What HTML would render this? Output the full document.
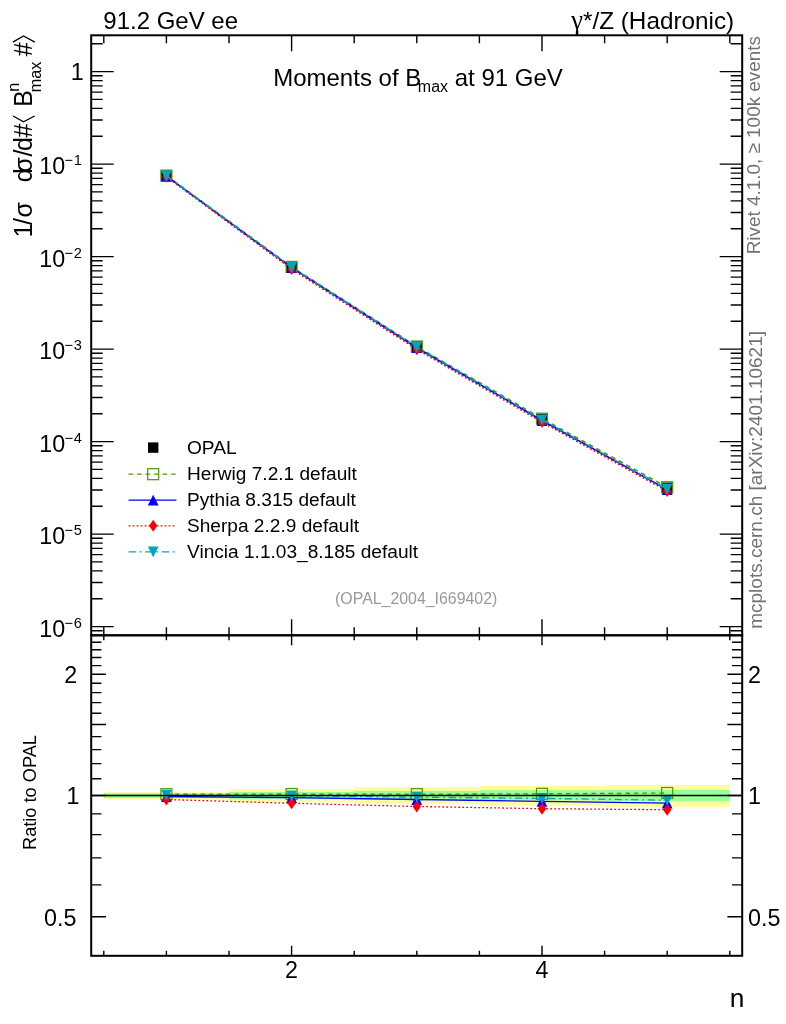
<!DOCTYPE html>
<html><head><meta charset="utf-8"><title>plot</title>
<style>html,body{margin:0;padding:0;background:#fff}svg{display:block;will-change:transform}text{font-family:"Liberation Sans",sans-serif}</style></head><body>
<svg width="786" height="1024" viewBox="0 0 786 1024">
<rect width="786" height="1024" fill="#fff"/>
<rect x="103.8" y="792.2" width="125.2" height="7.0" fill="#ffff99"/>
<rect x="229.0" y="789.0" width="125.2" height="12.8" fill="#ffff99"/>
<rect x="354.2" y="787.0" width="125.2" height="16.8" fill="#ffff99"/>
<rect x="479.4" y="786.0" width="125.2" height="19.6" fill="#ffff99"/>
<rect x="604.6" y="785.0" width="125.2" height="21.8" fill="#ffff99"/>
<rect x="103.8" y="793.3" width="125.2" height="4.7" fill="#99ff99"/>
<rect x="229.0" y="792.0" width="125.2" height="7.1" fill="#99ff99"/>
<rect x="354.2" y="790.9" width="125.2" height="9.1" fill="#99ff99"/>
<rect x="479.4" y="790.2" width="125.2" height="10.2" fill="#99ff99"/>
<rect x="604.6" y="789.9" width="125.2" height="11.1" fill="#99ff99"/>
<rect x="161.0" y="170.5" width="10.8" height="10.8" fill="#000"/>
<rect x="286.2" y="261.8" width="10.8" height="10.8" fill="#000"/>
<rect x="411.4" y="341.4" width="10.8" height="10.8" fill="#000"/>
<rect x="536.6" y="413.7" width="10.8" height="10.8" fill="#000"/>
<rect x="661.8" y="482.5" width="10.8" height="10.8" fill="#000"/>
<polyline points="166.4,175.6 291.6,266.9 416.8,346.5 542.0,418.7 667.2,487.3" fill="none" stroke="#4c9900" stroke-width="1.6" stroke-dasharray="4.5 4"/>
<rect x="160.9" y="170.1" width="11.0" height="11.0" fill="none" stroke="#4c9900" stroke-width="1.2"/>
<rect x="286.1" y="261.4" width="11.0" height="11.0" fill="none" stroke="#4c9900" stroke-width="1.2"/>
<rect x="411.3" y="341.0" width="11.0" height="11.0" fill="none" stroke="#4c9900" stroke-width="1.2"/>
<rect x="536.5" y="413.2" width="11.0" height="11.0" fill="none" stroke="#4c9900" stroke-width="1.2"/>
<rect x="661.7" y="481.8" width="11.0" height="11.0" fill="none" stroke="#4c9900" stroke-width="1.2"/>
<polyline points="166.4,176.2 291.6,267.7 416.8,347.7 542.0,420.5 667.2,489.6" fill="none" stroke="#0000ff" stroke-width="1.6"/>
<path d="M161.0 181.6L171.8 181.6L166.4 170.8Z" fill="#0000ff"/>
<path d="M286.2 273.1L297.0 273.1L291.6 262.3Z" fill="#0000ff"/>
<path d="M411.4 353.1L422.2 353.1L416.8 342.3Z" fill="#0000ff"/>
<path d="M536.6 425.9L547.4 425.9L542.0 415.1Z" fill="#0000ff"/>
<path d="M661.8 495.0L672.6 495.0L667.2 484.2Z" fill="#0000ff"/>
<polyline points="166.4,176.8 291.6,269.0 416.8,349.3 542.0,422.1 667.2,491.1" fill="none" stroke="#ff0000" stroke-width="1.6" stroke-dasharray="1.8 2.2"/>
<path d="M166.4 170.8L170.6 176.8L166.4 182.8L162.2 176.8Z" fill="#ff0000"/>
<path d="M291.6 263.0L295.8 269.0L291.6 275.0L287.4 269.0Z" fill="#ff0000"/>
<path d="M416.8 343.3L421.0 349.3L416.8 355.3L412.6 349.3Z" fill="#ff0000"/>
<path d="M542.0 416.1L546.2 422.1L542.0 428.1L537.8 422.1Z" fill="#ff0000"/>
<path d="M667.2 485.1L671.4 491.1L667.2 497.1L663.0 491.1Z" fill="#ff0000"/>
<polyline points="166.4,175.9 291.6,267.3 416.8,347.1 542.0,419.8 667.2,489.0" fill="none" stroke="#00a5bd" stroke-width="1.6" stroke-dasharray="7.3 3.7 1.9 3.7"/>
<path d="M161.0 170.5L171.8 170.5L166.4 181.3Z" fill="#00a5bd"/>
<path d="M286.2 261.9L297.0 261.9L291.6 272.7Z" fill="#00a5bd"/>
<path d="M411.4 341.7L422.2 341.7L416.8 352.5Z" fill="#00a5bd"/>
<path d="M536.6 414.4L547.4 414.4L542.0 425.2Z" fill="#00a5bd"/>
<path d="M661.8 483.6L672.6 483.6L667.2 494.4Z" fill="#00a5bd"/>
<polyline points="166.4,794.2 291.6,794.0 416.8,794.2 542.0,793.8 667.2,793.0" fill="none" stroke="#4c9900" stroke-width="1.3" stroke-dasharray="4.5 4"/>
<rect x="160.9" y="788.7" width="11.0" height="11.0" fill="none" stroke="#4c9900" stroke-width="1.2"/>
<rect x="286.1" y="788.5" width="11.0" height="11.0" fill="none" stroke="#4c9900" stroke-width="1.2"/>
<rect x="411.3" y="788.7" width="11.0" height="11.0" fill="none" stroke="#4c9900" stroke-width="1.2"/>
<rect x="536.5" y="788.3" width="11.0" height="11.0" fill="none" stroke="#4c9900" stroke-width="1.2"/>
<rect x="661.7" y="787.5" width="11.0" height="11.0" fill="none" stroke="#4c9900" stroke-width="1.2"/>
<polyline points="166.4,796.5 291.6,797.6 416.8,799.5 542.0,801.3 667.2,803.1" fill="none" stroke="#0000ff" stroke-width="1.3"/>
<path d="M161.0 801.9L171.8 801.9L166.4 791.1Z" fill="#0000ff"/>
<path d="M286.2 803.0L297.0 803.0L291.6 792.2Z" fill="#0000ff"/>
<path d="M411.4 804.9L422.2 804.9L416.8 794.1Z" fill="#0000ff"/>
<path d="M536.6 806.7L547.4 806.7L542.0 795.9Z" fill="#0000ff"/>
<path d="M661.8 808.5L672.6 808.5L667.2 797.7Z" fill="#0000ff"/>
<polyline points="166.4,799.5 291.6,803.3 416.8,806.5 542.0,808.7 667.2,809.7" fill="none" stroke="#ff0000" stroke-width="1.3" stroke-dasharray="1.8 2.2"/>
<path d="M166.4 793.5L170.6 799.5L166.4 805.5L162.2 799.5Z" fill="#ff0000"/>
<path d="M291.6 797.3L295.8 803.3L291.6 809.3L287.4 803.3Z" fill="#ff0000"/>
<path d="M416.8 800.5L421.0 806.5L416.8 812.5L412.6 806.5Z" fill="#ff0000"/>
<path d="M542.0 802.7L546.2 808.7L542.0 814.7L537.8 808.7Z" fill="#ff0000"/>
<path d="M667.2 803.7L671.4 809.7L667.2 815.7L663.0 809.7Z" fill="#ff0000"/>
<polyline points="166.4,795.2 291.6,795.8 416.8,797.2 542.0,798.4 667.2,800.2" fill="none" stroke="#00a5bd" stroke-width="1.3" stroke-dasharray="7.3 3.7 1.9 3.7"/>
<path d="M161.0 789.8L171.8 789.8L166.4 800.6Z" fill="#00a5bd"/>
<path d="M286.2 790.4L297.0 790.4L291.6 801.2Z" fill="#00a5bd"/>
<path d="M411.4 791.8L422.2 791.8L416.8 802.6Z" fill="#00a5bd"/>
<path d="M536.6 793.0L547.4 793.0L542.0 803.8Z" fill="#00a5bd"/>
<path d="M661.8 794.8L672.6 794.8L667.2 805.6Z" fill="#00a5bd"/>
<line x1="91.2" x2="742.2" y1="795.5" y2="795.5" stroke="#000" stroke-width="1.5"/>
<rect x="91.2" y="35.3" width="651.0" height="600.0" fill="none" stroke="#000" stroke-width="2"/>
<rect x="91.2" y="635.3" width="651.0" height="320.5" fill="none" stroke="#000" stroke-width="2"/>
<path d="M91.2 630.8H102.7M742.2 630.8H730.7M91.2 626.6H113.7M742.2 626.6H719.7M91.2 598.8H102.7M742.2 598.8H730.7M91.2 582.5H102.7M742.2 582.5H730.7M91.2 570.9H102.7M742.2 570.9H730.7M91.2 561.9H102.7M742.2 561.9H730.7M91.2 554.6H102.7M742.2 554.6H730.7M91.2 548.4H102.7M742.2 548.4H730.7M91.2 543.1H102.7M742.2 543.1H730.7M91.2 538.3H102.7M742.2 538.3H730.7M91.2 534.1H113.7M742.2 534.1H719.7M91.2 506.3H102.7M742.2 506.3H730.7M91.2 490.0H102.7M742.2 490.0H730.7M91.2 478.4H102.7M742.2 478.4H730.7M91.2 469.4H102.7M742.2 469.4H730.7M91.2 462.1H102.7M742.2 462.1H730.7M91.2 455.9H102.7M742.2 455.9H730.7M91.2 450.6H102.7M742.2 450.6H730.7M91.2 445.8H102.7M742.2 445.8H730.7M91.2 441.6H113.7M742.2 441.6H719.7M91.2 413.8H102.7M742.2 413.8H730.7M91.2 397.5H102.7M742.2 397.5H730.7M91.2 385.9H102.7M742.2 385.9H730.7M91.2 376.9H102.7M742.2 376.9H730.7M91.2 369.6H102.7M742.2 369.6H730.7M91.2 363.4H102.7M742.2 363.4H730.7M91.2 358.1H102.7M742.2 358.1H730.7M91.2 353.3H102.7M742.2 353.3H730.7M91.2 349.1H113.7M742.2 349.1H719.7M91.2 321.3H102.7M742.2 321.3H730.7M91.2 305.0H102.7M742.2 305.0H730.7M91.2 293.4H102.7M742.2 293.4H730.7M91.2 284.4H102.7M742.2 284.4H730.7M91.2 277.1H102.7M742.2 277.1H730.7M91.2 270.9H102.7M742.2 270.9H730.7M91.2 265.6H102.7M742.2 265.6H730.7M91.2 260.8H102.7M742.2 260.8H730.7M91.2 256.6H113.7M742.2 256.6H719.7M91.2 228.8H102.7M742.2 228.8H730.7M91.2 212.5H102.7M742.2 212.5H730.7M91.2 200.9H102.7M742.2 200.9H730.7M91.2 191.9H102.7M742.2 191.9H730.7M91.2 184.6H102.7M742.2 184.6H730.7M91.2 178.4H102.7M742.2 178.4H730.7M91.2 173.1H102.7M742.2 173.1H730.7M91.2 168.3H102.7M742.2 168.3H730.7M91.2 164.1H113.7M742.2 164.1H719.7M91.2 136.3H102.7M742.2 136.3H730.7M91.2 120.0H102.7M742.2 120.0H730.7M91.2 108.4H102.7M742.2 108.4H730.7M91.2 99.4H102.7M742.2 99.4H730.7M91.2 92.1H102.7M742.2 92.1H730.7M91.2 85.9H102.7M742.2 85.9H730.7M91.2 80.6H102.7M742.2 80.6H730.7M91.2 75.8H102.7M742.2 75.8H730.7M91.2 71.6H113.7M742.2 71.6H719.7M91.2 43.8H102.7M742.2 43.8H730.7M91.2 43.8H102.7M742.2 43.8H730.7M103.8 35.3V43.3M103.8 635.3V627.3M103.8 635.3V640.3M103.8 955.8V950.8M166.4 35.3V43.3M166.4 635.3V627.3M166.4 635.3V640.3M166.4 955.8V950.8M229.0 35.3V43.3M229.0 635.3V627.3M229.0 635.3V640.3M229.0 955.8V950.8M291.6 35.3V51.3M291.6 635.3V619.3M291.6 635.3V645.3M291.6 955.8V945.8M354.2 35.3V43.3M354.2 635.3V627.3M354.2 635.3V640.3M354.2 955.8V950.8M416.8 35.3V43.3M416.8 635.3V627.3M416.8 635.3V640.3M416.8 955.8V950.8M479.4 35.3V43.3M479.4 635.3V627.3M479.4 635.3V640.3M479.4 955.8V950.8M542.0 35.3V51.3M542.0 635.3V619.3M542.0 635.3V645.3M542.0 955.8V945.8M604.6 35.3V43.3M604.6 635.3V627.3M604.6 635.3V640.3M604.6 955.8V950.8M667.2 35.3V43.3M667.2 635.3V627.3M667.2 635.3V640.3M667.2 955.8V950.8M729.8 35.3V43.3M729.8 635.3V627.3M729.8 635.3V640.3M729.8 955.8V950.8M91.2 916.8H106.0M742.2 916.8H727.4M91.2 884.9H101.4M742.2 884.9H732.0M91.2 857.9H101.4M742.2 857.9H732.0M91.2 834.6H101.4M742.2 834.6H732.0M91.2 813.9H101.4M742.2 813.9H732.0M91.2 795.5H106.0M742.2 795.5H727.4M91.2 778.8H101.4M742.2 778.8H732.0M91.2 763.6H101.4M742.2 763.6H732.0M91.2 749.6H101.4M742.2 749.6H732.0M91.2 736.6H101.4M742.2 736.6H732.0M91.2 724.5H106.0M742.2 724.5H727.4M91.2 713.2H101.4M742.2 713.2H732.0M91.2 702.6H101.4M742.2 702.6H732.0M91.2 692.6H101.4M742.2 692.6H732.0M91.2 683.2H101.4M742.2 683.2H732.0M91.2 674.2H106.0M742.2 674.2H727.4M91.2 665.6H101.4M742.2 665.6H732.0M91.2 657.5H101.4M742.2 657.5H732.0M91.2 649.7H101.4M742.2 649.7H732.0M91.2 642.3H101.4M742.2 642.3H732.0" stroke="#000" stroke-width="1.4" fill="none"/>
<text x="83.6" y="79.8" font-size="23.3" text-anchor="end" fill="#000">1</text>
<text x="65.2" y="174.0" font-size="23.3" text-anchor="end">10</text>
<text x="64.6" y="165.3" font-size="14.6">−<tspan dx="0.6">1</tspan></text>
<text x="65.2" y="266.5" font-size="23.3" text-anchor="end">10</text>
<text x="64.6" y="257.8" font-size="14.6">−<tspan dx="0.6">2</tspan></text>
<text x="65.2" y="359.0" font-size="23.3" text-anchor="end">10</text>
<text x="64.6" y="350.3" font-size="14.6">−<tspan dx="0.6">3</tspan></text>
<text x="65.2" y="451.5" font-size="23.3" text-anchor="end">10</text>
<text x="64.6" y="442.8" font-size="14.6">−<tspan dx="0.6">4</tspan></text>
<text x="65.2" y="544.0" font-size="23.3" text-anchor="end">10</text>
<text x="64.6" y="535.3" font-size="14.6">−<tspan dx="0.6">5</tspan></text>
<text x="65.2" y="636.5" font-size="23.3" text-anchor="end">10</text>
<text x="64.6" y="627.8" font-size="14.6">−<tspan dx="0.6">6</tspan></text>
<text x="77.3" y="683.0" font-size="23.3" text-anchor="end" fill="#000">2</text>
<text x="748.0" y="683.0" font-size="23.3" text-anchor="start" fill="#000">2</text>
<text x="79.4" y="804.3" font-size="23.3" text-anchor="end" fill="#000">1</text>
<text x="748.0" y="804.3" font-size="23.3" text-anchor="start" fill="#000">1</text>
<text x="76.5" y="925.6" font-size="23.3" text-anchor="end" fill="#000">0.5</text>
<text x="748.0" y="925.6" font-size="23.3" text-anchor="start" fill="#000">0.5</text>
<text x="291.6" y="978.0" font-size="23.3" text-anchor="middle" fill="#000">2</text>
<text x="542.0" y="978.0" font-size="23.3" text-anchor="middle" fill="#000">4</text>
<text x="744.3" y="1007.0" font-size="26.3" text-anchor="end" fill="#000">n</text>
<text x="103.3" y="28.5" font-size="24" text-anchor="start" fill="#000">91.2 GeV ee</text>
<text x="734.2" y="28.6" font-size="24.3" text-anchor="end" fill="#000">*/Z (Hadronic)</text>
<text x="571.2" y="28.6" font-size="26.5" style="font-family:'Liberation Serif',serif">γ</text>
<text x="273.2" y="85.9" font-size="24">Moments of B<tspan font-size="16" dy="6.2" dx="-3.4">max</tspan><tspan dy="-6.2"> at 91 GeV</tspan></text>
<text x="416.2" y="604.2" font-size="15.9" text-anchor="middle" fill="#999">(OPAL_2004_I669402)</text>
<text transform="translate(760,254.3) rotate(-90)" font-size="18.9" fill="#727272">Rivet 4.1.0, ≥ 100k events</text>
<text transform="translate(762.2,628.8) rotate(-90)" font-size="19" fill="#727272">mcplots.cern.ch [arXiv:2401.10621]</text>
<text transform="translate(36.3,850) rotate(-90)" font-size="18.2">Ratio to OPAL</text>
<text transform="translate(31.5,0) rotate(-90)" x="-237.5" y="0" font-size="25">1</text>
<text transform="translate(31.5,0) rotate(-90)" x="-224.9" y="0" font-size="25">/</text>
<text transform="translate(31.5,0) rotate(-90)" x="-217.6" y="0" font-size="25">σ</text>
<text transform="translate(31.5,0) rotate(-90)" x="-182.2" y="0" font-size="25">d</text>
<text transform="translate(31.5,0) rotate(-90)" x="-172.6" y="0" font-size="25">σ</text>
<text transform="translate(31.5,0) rotate(-90)" x="-156.6" y="0" font-size="25">/</text>
<text transform="translate(31.5,0) rotate(-90)" x="-151.1" y="0" font-size="25">d</text>
<text transform="translate(31.5,0) rotate(-90)" x="-137.5" y="0" font-size="25">#</text>
<text transform="translate(31.5,0) rotate(-90)" x="-106.8" y="0" font-size="25">B</text>
<text transform="translate(19.0,0) rotate(-90)" x="-91.8" y="0" font-size="16.3">n</text>
<text transform="translate(41.2,0) rotate(-90)" x="-92.3" y="0" font-size="16.3">max</text>
<text transform="translate(31.5,0) rotate(-90)" x="-56.3" y="0" font-size="25">#</text>
<path d="M34.7 116L23.5 121.8L13.1 116M12.9 42.2L23.5 36.0L34.8 42.2" fill="none" stroke="#000" stroke-width="1.4"/>
<rect x="148.0" y="442.4" width="10.4" height="10.4" fill="#000"/>
<line x1="128.6" x2="176.4" y1="474.2" y2="474.2" stroke="#4c9900" stroke-width="1.25" stroke-dasharray="4.5 4"/>
<rect x="147.7" y="468.7" width="11.0" height="11.0" fill="none" stroke="#4c9900" stroke-width="1.2"/>
<line x1="128.6" x2="176.4" y1="500.2" y2="500.2" stroke="#0000ff" stroke-width="1.25"/>
<path d="M147.8 505.6L158.6 505.6L153.2 494.8Z" fill="#0000ff"/>
<line x1="128.6" x2="176.4" y1="525.8" y2="525.8" stroke="#ff0000" stroke-width="1.25" stroke-dasharray="1.8 2.2"/>
<path d="M153.2 519.8L157.4 525.8L153.2 531.8L149.0 525.8Z" fill="#ff0000"/>
<line x1="128.6" x2="176.4" y1="551.8" y2="551.8" stroke="#00a5bd" stroke-width="1.25" stroke-dasharray="7.3 3.7 1.9 3.7"/>
<path d="M147.8 546.4L158.6 546.4L153.2 557.2Z" fill="#00a5bd"/>
<text x="187.0" y="453.5" font-size="19.1" text-anchor="start" fill="#000">OPAL</text>
<text x="187.0" y="480.1" font-size="19.1" text-anchor="start" fill="#000">Herwig 7.2.1 default</text>
<text x="187.0" y="506.1" font-size="19.1" text-anchor="start" fill="#000">Pythia 8.315 default</text>
<text x="187.0" y="531.7" font-size="19.1" text-anchor="start" fill="#000">Sherpa 2.2.9 default</text>
<text x="187.0" y="557.7" font-size="19.1" text-anchor="start" fill="#000">Vincia 1.1.03_8.185 default</text>
</svg></body></html>
